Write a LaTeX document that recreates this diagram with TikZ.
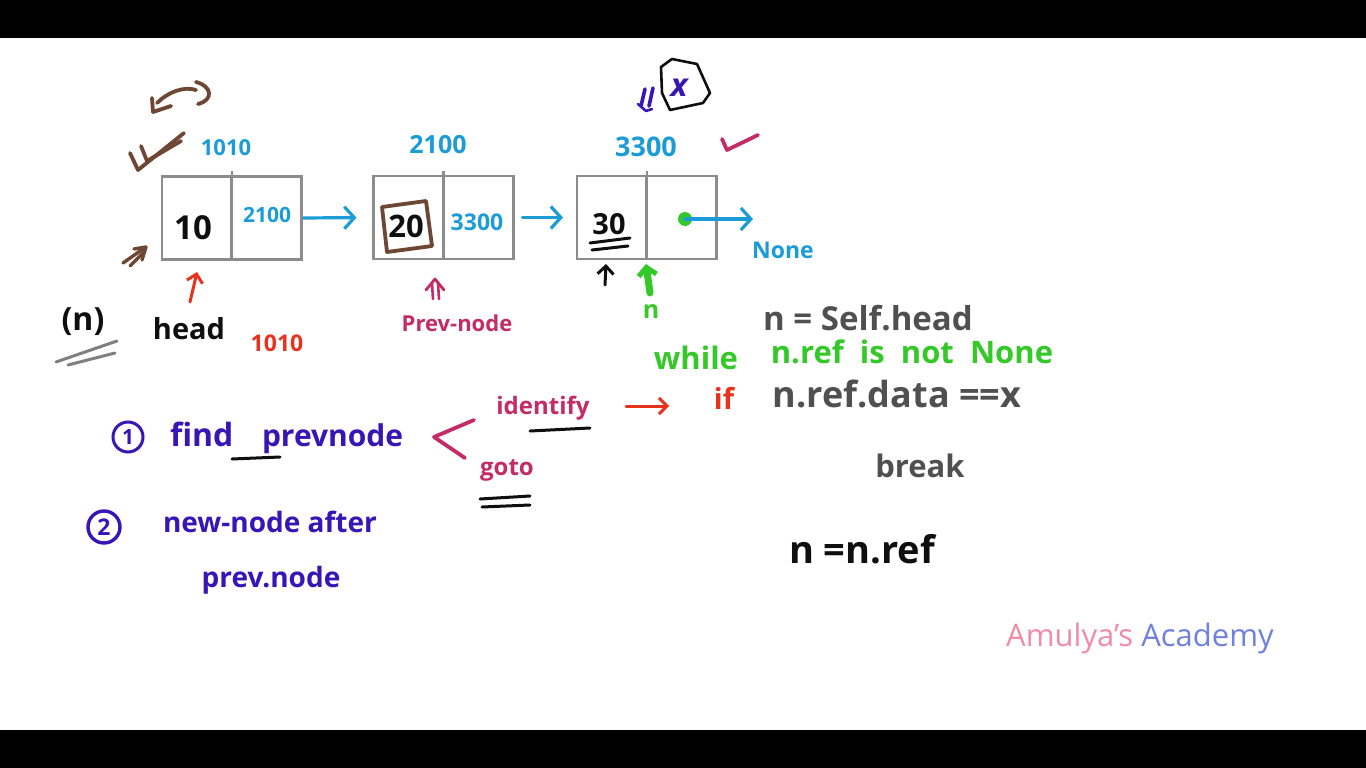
\documentclass[tikz,border=0pt]{standalone}
\usepackage{fontspec}
\setmainfont{Open Sans}
\usetikzlibrary{arrows.meta,calc}
\definecolor{cblue}{RGB}{28,156,214}
\definecolor{cgreen}{RGB}{52,200,40}
\definecolor{cred}{RGB}{232,50,30}
\definecolor{cpink}{RGB}{196,44,104}
\definecolor{cpurple}{RGB}{56,22,182}
\definecolor{cbrown}{RGB}{110,70,52}
\definecolor{boxgray}{RGB}{140,140,140}
\definecolor{cgray}{RGB}{80,80,80}
\definecolor{ink}{RGB}{15,15,15}
\definecolor{apink}{RGB}{240,140,165}
\definecolor{ablue}{RGB}{112,128,224}
\begin{document}
\begin{tikzpicture}[x=1pt,y=-1pt,
  every node/.style={inner sep=0pt,outer sep=0pt},
  fs/.style={font=\fontsize{#1}{#1}\selectfont\bfseries},
  cell/.style={draw=boxgray,line width=2.6pt,minimum width=70pt,minimum height=83pt},
  conn/.style={cblue,line width=3.2pt,line cap=round,-{Straight Barb[length=10pt,width=22pt,line width=3.2pt]}},
  pen/.style={line width=#1,line cap=round,line join=round},
  pen/.default=3.8pt,
  barb/.style={-{Straight Barb[length=8pt,width=16pt,line width=3pt]}}]
\useasboundingbox (0,0) rectangle (1366,768);
\fill[black] (0,0) rectangle (1366,768);
\fill[white] (0,38) rectangle (1366,730);

% ---- linked list cells ----
\node[cell] (a1) at (197,218) {};
\node[cell] (a2) at (266.5,218) {};
\node[cell] (b1) at (408.5,217.5) {};
\node[cell] (b2) at (478.5,217.5) {};
\node[cell] (c1) at (612,217.5) {};
\node[cell] (c2) at (681.5,217.5) {};
\draw[boxgray,line width=2.4pt] (a1.north east) -- ++(0,-6);
\draw[boxgray,line width=2.4pt] (b1.north east) -- ++(0,-5);
\draw[boxgray,line width=2.4pt] (c1.north east) -- ++(0,-5);

% cell contents
\node[fs=33,text=ink] (v10) at (193,228) {10};
\node[fs=31,text=ink] (v20) at (406,226) {20};
\node[fs=21,text=cblue] (p1) at (267,215) {2100};
\node[fs=23,text=cblue] (p2) at (477,222) {3300};
\node[fs=29,text=ink] (v30) at (609,224) {30};
\node[circle,fill=cgreen,minimum size=14pt] (dot) at (685,219) {};
\coordinate (nonetip) at (753,219);

% addresses
\node[fs=22,text=cblue] (ad1) at (226,148) {1010};
\node[fs=25,text=cblue] (ad2) at (438,145) {2100};
\node[fs=27,text=cblue] (ad3) at (646,147) {3300};
\node[fs=23,text=cblue] (none) at (783,250) {None};

% connectors
\draw[conn,shorten <=2pt,shorten >=17pt] (a2.east) -- (b1.west);
\draw[conn,shorten <=9pt,shorten >=14pt] (b2.east) -- (c1.west);
\draw[conn] (dot.center) -- (nonetip);

% brown box around 20, underline of 30
\draw[cbrown,pen] (382,207) -- (426,201) -- (432,246) -- (387,252) -- cycle;
\draw[ink,pen=3pt] (590,243) -- (630,238);
\draw[ink,pen=3pt] (592,250) -- (628,246);

% brown double check and curly arrow
\draw[cbrown,pen] (130,153) -- (138,170) -- (184,133);
\draw[cbrown,pen] (141,146) -- (147,161) -- (181,141);
\draw[cbrown,pen] (152,98) -- (153,112) -- (171,106);
\draw[cbrown,pen] (157,103) .. controls (168,92) and (184,86) .. (196,90);
\draw[cbrown,pen] (196,82) .. controls (212,86) and (214,100) .. (198,104);
% brown double arrow
\draw[cbrown,pen=3.4pt] (123,263) -- (143,249);
\draw[cbrown,pen=3.4pt] (130,266) -- (145,251);
\draw[cbrown,pen=3.4pt] (134,249) -- (146,247) -- (142,260);

% pink check
\draw[cpink,pen] (722,139) -- (727,150) -- (758,135);

% x box
\draw[ink,pen=2.6pt] (661,67) -- (672,59) -- (697,64) -- (710,93) -- (703,103) -- (670,110) -- (662,93) -- cycle;
\node[fs=32,text=cpurple] (xv) at (679,88) {\itshape x};
\draw[cpurple,pen=3.6pt] (641,106) -- (645,89);
\draw[cpurple,pen=3.6pt] (649,106) -- (653,88);
\draw[cpurple,pen=2.6pt] (638,104) -- (646,111) -- (652,109);

% pointer arrows under cells
\coordinate (redtip) at (197,272);
\draw[cred,pen=3pt,barb] (190,302) -- (redtip);
\draw[cpink,pen=2.8pt] (426,290) -- (435,279) -- (444,290);
\draw[cpink,pen=2.6pt] (432,283) -- (433,299);
\draw[cpink,pen=2.6pt] (438,283) -- (439,299);
\coordinate (blacktip) at (606,264);
\draw[ink,pen=3pt,barb] (605,285) -- (blacktip);
\coordinate (greentip) at (646,264);
\draw[cgreen,pen=7pt,-{Straight Barb[length=8pt,width=18pt,line width=5pt]}] (650,293) -- (greentip);
\node[fs=25,text=cgreen] (nlab) at (651,312) {n};

% labels left
\node[fs=32,text=ink] (nparen) at (83,322) {(n)};
\draw[gray,pen=3pt] (56,362) -- (117,341);
\draw[gray,pen=3pt] (68,365) -- (115,353);
\node[fs=29,text=ink] (head) at (189,329) {head};
\node[fs=23,text=cred] (hd) at (277,343) {1010};
\node[fs=22,text=cpink] (prevlab) at (457,323) {Prev-node};

% code
\node[fs=33,text=cgray] (l1) at (868,318) {n = Self.head};
\node[fs=31,text=cgreen] (l2a) at (696,358) {while};
\node[fs=31,text=cgreen] (l2b) at (912,352) {n.ref\ \ is\ \ not\ \ None};
\coordinate (ifarrow) at (669,406);
\draw[cred,pen=3pt,barb] (626,406) -- (ifarrow);
\node[fs=29,text=cred] (lif) at (724,398) {if};
\node[fs=36,text=cgray] (l3) at (897,394) {n.ref.data ==x};
\node[fs=31,text=cgray] (l4) at (920,466) {break};
\node[fs=38,text=ink] (l5) at (862,549) {n =n.ref};

% steps
\node[circle,draw=cpurple,line width=3pt,minimum size=30pt,fs=21,text=cpurple] (s1) at (128,437) {1};
\node[fs=32,text=cpurple,anchor=base west] (f1) at (170,446) {find};
\node[fs=30,text=cpurple,anchor=base west] (f2) at (262,446) {prevnode};
\draw[ink,pen=3pt] (232,459) -- (280,457);
\draw[cpink,pen] (474,420) -- (434,437) -- (465,458);
\node[fs=24,text=cpink] (ident) at (543,408) {identify};
\draw[ink,pen=3pt] (530,431) -- (590,428);
\node[fs=24,text=cpink] (goto) at (507,470) {goto};
\draw[ink,pen=3pt] (480,499) -- (530,496);
\draw[ink,pen=3pt] (482,507) -- (530,505);
\node[circle,draw=cpurple,line width=3.4pt,minimum size=32pt,fs=23,text=cpurple] (s2) at (104,527) {2};
\node[fs=28,text=cpurple] (st2) at (270,522) {new-node after};
\node[fs=28,text=cpurple] (st3) at (271,580) {prev.node};

\node[font=\fontsize{31}{31}\selectfont] (brand) at (1140,638) {\textcolor{apink}{Amulya\char"0027 s} \textcolor{ablue}{Academy}};
\end{tikzpicture}
\end{document}
